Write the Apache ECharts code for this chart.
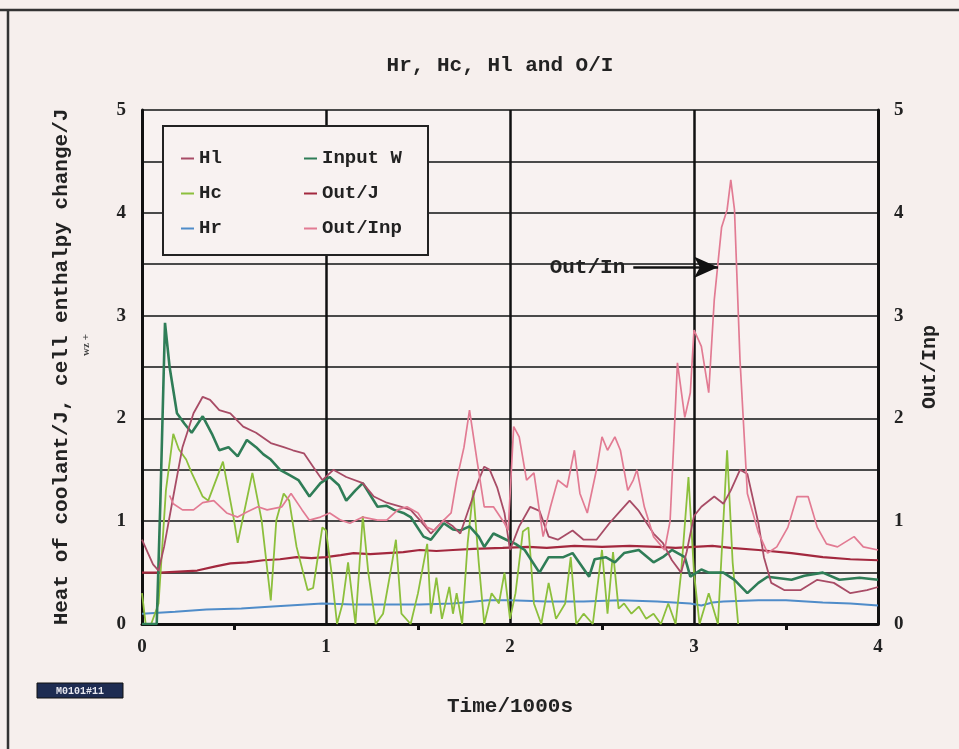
<!DOCTYPE html>
<html>
<head>
<meta charset="utf-8">
<script src="https://cdn.jsdelivr.net/npm/echarts@6/dist/echarts.min.js"></script>
<style>
html,body{margin:0;padding:0;background:#f6efed;}
#c{width:959px;height:749px;}
</style>
</head>
<body>
<div id="c"></div>
<script>
// ---- data (time in 1000 s) ----
const titleText = "Hr, Hc, Hl and O/I";
const xTicks = [0, 1, 2, 3, 4];
const yTicks = [0, 1, 2, 3, 4, 5];

const hlT = [0,0.03,0.06,0.09,0.12,0.17,0.22,0.28,0.33,0.37,0.42,0.48,0.55,0.62,0.7,0.77,0.82,0.88,0.93,0.98,1.04,1.11,1.2,1.26,1.33,1.41,1.46,1.51,1.57,1.64,1.69,1.73,1.78,1.83,1.86,1.89,1.93,1.97,2.0,2.05,2.11,2.16,2.21,2.26,2.34,2.4,2.47,2.54,2.6,2.65,2.7,2.78,2.83,2.88,2.93,2.96,3.0,3.04,3.11,3.16,3.2,3.25,3.29,3.35,3.38,3.42,3.49,3.58,3.67,3.76,3.85,3.94,4.0];
const hlV = [0.82,0.7,0.58,0.52,0.75,1.24,1.72,2.05,2.21,2.18,2.08,2.05,1.92,1.86,1.76,1.72,1.69,1.66,1.53,1.4,1.5,1.43,1.37,1.24,1.18,1.14,1.11,1.01,0.88,1.01,0.95,0.88,1.14,1.4,1.53,1.5,1.33,1.08,0.72,0.95,1.14,1.1,0.85,0.82,0.91,0.82,0.82,0.98,1.1,1.2,1.1,0.88,0.79,0.62,0.5,0.7,1.05,1.14,1.24,1.17,1.3,1.5,1.46,0.98,0.65,0.4,0.33,0.33,0.43,0.4,0.3,0.33,0.36];

const inT = [0,0.04,0.08,0.1,0.125,0.15,0.19,0.23,0.27,0.33,0.38,0.42,0.47,0.52,0.57,0.62,0.66,0.7,0.75,0.8,0.85,0.91,0.97,1.02,1.07,1.11,1.16,1.2,1.28,1.33,1.37,1.42,1.46,1.53,1.57,1.64,1.69,1.73,1.78,1.83,1.86,1.91,1.98,2.03,2.08,2.16,2.21,2.29,2.34,2.43,2.46,2.52,2.57,2.62,2.7,2.78,2.83,2.88,2.95,2.98,3.04,3.08,3.16,3.22,3.29,3.35,3.4,3.53,3.6,3.7,3.79,3.9,4.0];
const inV = [0,0,0,1.2,2.93,2.5,2.05,1.95,1.86,2.02,1.85,1.69,1.72,1.63,1.79,1.72,1.65,1.6,1.5,1.45,1.4,1.24,1.37,1.43,1.35,1.2,1.3,1.37,1.14,1.15,1.11,1.08,1.04,0.85,0.82,0.98,0.92,0.91,0.95,0.85,0.75,0.88,0.82,0.78,0.72,0.5,0.65,0.65,0.69,0.46,0.63,0.65,0.6,0.69,0.72,0.6,0.65,0.72,0.65,0.46,0.53,0.5,0.5,0.43,0.3,0.4,0.46,0.43,0.47,0.5,0.43,0.45,0.43];

const hcT = [0,0.02,0.05,0.09,0.13,0.17,0.2,0.24,0.27,0.33,0.36,0.44,0.5,0.52,0.6,0.65,0.7,0.73,0.77,0.8,0.84,0.9,0.93,0.98,1.0,1.03,1.06,1.09,1.12,1.16,1.2,1.23,1.27,1.31,1.35,1.38,1.41,1.46,1.5,1.55,1.57,1.6,1.63,1.67,1.69,1.71,1.74,1.77,1.8,1.83,1.86,1.9,1.94,1.97,2.0,2.03,2.07,2.1,2.13,2.17,2.21,2.25,2.3,2.33,2.36,2.4,2.45,2.5,2.53,2.56,2.59,2.62,2.66,2.7,2.74,2.78,2.82,2.86,2.9,2.93,2.97,3.0,3.03,3.08,3.13,3.18,3.21,3.24];
const hcV = [0.3,0,0,0.2,1.3,1.85,1.7,1.6,1.47,1.24,1.2,1.58,1.01,0.79,1.47,1.01,0.23,1.01,1.27,1.2,0.75,0.33,0.35,0.94,0.91,0.5,0,0.2,0.6,0,1.05,0.5,0,0.1,0.5,0.82,0.1,0,0.3,0.78,0.1,0.45,0.05,0.36,0.1,0.3,0,0.79,1.3,0.6,0,0.3,0.2,0.5,0.05,0.3,0.9,0.94,0.2,0,0.4,0.05,0.2,0.65,0,0.1,0,0.72,0.1,0.7,0.15,0.2,0.1,0.17,0.05,0.1,0,0.2,0,0.5,1.43,0.5,0,0.3,0,1.69,0.6,0];

const outJT = [0,0.1,0.2,0.3,0.4,0.48,0.57,0.66,0.75,0.84,0.92,1.0,1.08,1.15,1.24,1.33,1.42,1.51,1.6,1.69,1.8,1.96,2.1,2.2,2.35,2.5,2.65,2.8,2.9,3.0,3.1,3.2,3.35,3.53,3.7,3.85,4.0];
const outJV = [0.5,0.5,0.51,0.52,0.56,0.59,0.6,0.62,0.63,0.65,0.64,0.65,0.67,0.69,0.68,0.69,0.7,0.72,0.71,0.72,0.73,0.74,0.75,0.74,0.76,0.75,0.76,0.75,0.74,0.75,0.76,0.74,0.72,0.69,0.65,0.63,0.62];

const oiT = [0.15,0.17,0.22,0.28,0.33,0.39,0.46,0.52,0.57,0.63,0.68,0.76,0.81,0.87,0.91,0.97,1.02,1.08,1.13,1.2,1.28,1.33,1.39,1.44,1.5,1.55,1.59,1.64,1.68,1.71,1.75,1.78,1.82,1.86,1.91,1.97,1.99,2.02,2.05,2.09,2.13,2.18,2.22,2.26,2.31,2.35,2.38,2.42,2.47,2.5,2.53,2.57,2.6,2.64,2.67,2.69,2.73,2.78,2.84,2.87,2.89,2.91,2.95,2.98,3.0,3.04,3.08,3.11,3.15,3.18,3.2,3.22,3.25,3.29,3.35,3.4,3.45,3.51,3.56,3.62,3.67,3.72,3.78,3.87,3.92,4.0];
const oiV = [1.25,1.17,1.11,1.11,1.18,1.2,1.08,1.04,1.09,1.14,1.11,1.14,1.27,1.11,1.01,1.04,1.08,1.01,0.98,1.04,1.01,1.01,1.11,1.14,1.08,0.94,0.91,1.01,1.08,1.4,1.72,2.08,1.6,1.14,1.14,0.98,0.91,1.92,1.82,1.4,1.47,0.85,1.14,1.4,1.33,1.69,1.27,1.08,1.5,1.82,1.69,1.82,1.69,1.3,1.4,1.5,1.14,0.85,0.72,1.0,1.76,2.54,2.01,2.25,2.86,2.7,2.25,3.15,3.86,4.03,4.32,4.03,2.57,1.27,0.89,0.69,0.75,0.94,1.24,1.24,0.94,0.78,0.75,0.85,0.75,0.72];

const hrT = [0,0.18,0.35,0.54,0.71,0.98,1.15,1.33,1.51,1.69,1.88,2.0,2.2,2.4,2.6,2.8,2.98,3.04,3.1,3.16,3.35,3.5,3.7,3.85,4.0];
const hrV = [0.1,0.12,0.14,0.15,0.17,0.2,0.19,0.19,0.19,0.2,0.23,0.23,0.22,0.22,0.23,0.22,0.2,0.18,0.21,0.22,0.23,0.23,0.21,0.2,0.18];

// annotation arrow (data coords)
const arrowStart = [2.67, 3.47];
const arrowEnd = [3.13, 3.47];
const arrowLabel = "Out/In";

function pairs(t, v) { return t.map((x, i) => [x, v[i]]); }

const MONO = '"Liberation Mono", "DejaVu Sans Mono", monospace';
const SERIF = '"Liberation Serif", "DejaVu Serif", serif';

const chart = echarts.init(document.getElementById('c'), null, {renderer: 'canvas'});

function line(name, t, v, color, width, yIdx, extra) {
  return Object.assign({
    name: name, type: 'line', data: pairs(t, v), yAxisIndex: yIdx || 0,
    showSymbol: false, symbol: 'none', smooth: false, animation: false,
    lineStyle: {color: color, width: width}, itemStyle: {color: color}
  }, extra || {});
}

const legendText = {fontFamily: MONO, fontWeight: 'bold', fontSize: 19, color: '#222'};

chart.setOption({
  backgroundColor: '#f6efed',
  animation: false,
  title: {
    text: titleText, left: 495, top: 50, textAlign: 'center',
    textStyle: {fontFamily: MONO, fontWeight: 'bold', fontSize: 21, color: '#222'}
  },
  grid: {left: 142, right: 81, top: 110, bottom: 125, show: true, backgroundColor: '#f8f2f1', borderWidth: 0},
  legend: [
    {data: ['Hl', 'Hc', 'Hr'], orient: 'vertical', left: 176, top: 144, itemGap: 16, z: 20,
     icon: 'rect', itemWidth: 13, itemHeight: 2, textStyle: legendText, selectedMode: false},
    {data: ['Input W', 'Out/J', 'Out/Inp'], orient: 'vertical', left: 299, top: 144, itemGap: 16, z: 20,
     icon: 'rect', itemWidth: 13, itemHeight: 2, textStyle: legendText, selectedMode: false}
  ],
  xAxis: {
    type: 'value', min: 0, max: 4, interval: 1,
    name: 'Time/1000s', nameLocation: 'middle', nameGap: 72,
    nameTextStyle: {fontFamily: MONO, fontWeight: 'bold', fontSize: 21, color: '#222'},
    axisLine: {show: true, lineStyle: {color: '#111', width: 3}},
    axisTick: {show: false},
    minorTick: {show: true, splitNumber: 2, length: 6, lineStyle: {color: '#111', width: 3}},
    axisLabel: {fontFamily: SERIF, fontWeight: 'bold', fontSize: 19, color: '#222', margin: 14,
      formatter: v => xTicks.includes(v) ? String(v) : ''},
    splitLine: {show: true, lineStyle: {color: '#111', width: 2.5}}
  },
  yAxis: [
    {
      type: 'value', min: 0, max: 5, interval: 1, position: 'left',
      name: 'Heat of coolant/J, cell enthalpy change/J', nameLocation: 'middle', nameGap: 70,
      nameTextStyle: {fontFamily: MONO, fontWeight: 'bold', fontSize: 21, color: '#222'},
      axisLine: {show: true, lineStyle: {color: '#111', width: 3}},
      axisTick: {show: false},
      axisLabel: {fontFamily: SERIF, fontWeight: 'bold', fontSize: 19, color: '#222', margin: 16,
        formatter: v => yTicks.includes(v) ? String(v) : ''},
      splitLine: {show: true, lineStyle: {color: '#4a4a4a', width: 2}},
      minorSplitLine: {show: true, lineStyle: {color: '#4a4a4a', width: 2}},
      minorTick: {show: false, splitNumber: 2}
    },
    {
      type: 'value', min: 0, max: 5, interval: 1, position: 'right',
      name: 'Out/Inp', nameLocation: 'middle', nameGap: 42, nameRotate: 90,
      nameTextStyle: {fontFamily: MONO, fontWeight: 'bold', fontSize: 20, color: '#222'},
      axisLine: {show: true, lineStyle: {color: '#111', width: 3}},
      axisTick: {show: false},
      axisLabel: {fontFamily: SERIF, fontWeight: 'bold', fontSize: 19, color: '#222', margin: 16,
        formatter: v => yTicks.includes(v) ? String(v) : ''},
      splitLine: {show: false}
    }
  ],
  series: [
    line('Hr', hrT, hrV, '#4f8cc9', 2),
    line('Out/J', outJT, outJV, '#a3283e', 2.2),
    line('Hc', hcT, hcV, '#8cbf3c', 1.8),
    line('Input W', inT, inV, '#2f7d57', 2.6),
    line('Hl', hlT, hlV, '#a84c66', 1.8),
    line('Out/Inp', oiT, oiV, '#e27b93', 1.7, 1, {
      markLine: {
        silent: true, symbol: ['none', 'arrow'], symbolSize: [16, 24],
        lineStyle: {color: '#111', width: 2.5, type: 'solid'},
        label: {show: true, position: 'start', formatter: arrowLabel, distance: 8,
          fontFamily: MONO, fontWeight: 'bold', fontSize: 21, color: '#222'},
        data: [[{coord: arrowStart}, {coord: arrowEnd}]]
      }
    })
  ],
  graphic: [
    {type: 'line', shape: {x1: 0, y1: 10, x2: 959, y2: 10}, style: {stroke: '#333', lineWidth: 2.5}},
    {type: 'line', shape: {x1: 8, y1: 10, x2: 8, y2: 749}, style: {stroke: '#333', lineWidth: 2.5}},
    {type: 'rect', shape: {x: 163, y: 126, width: 265, height: 129}, z: 1,
     style: {fill: '#f8f2f1', stroke: '#222', lineWidth: 2}},
    {type: 'text', x: 86, y: 345, rotation: Math.PI / 2, z: 10,
     style: {text: 'wz +', font: 'bold 11px ' + SERIF, fill: '#444', textAlign: 'center', textVerticalAlign: 'middle'}},
    {type: 'rect', shape: {x: 37, y: 683, width: 86, height: 15}, z: 10,
     style: {fill: '#1e2c52', stroke: '#111', lineWidth: 1}},
    {type: 'text', x: 80, y: 691, z: 11,
     style: {text: 'M0101#11', font: 'bold 10px ' + MONO, fill: '#e8e8f0', textAlign: 'center', textVerticalAlign: 'middle'}}
  ]
});
</script>
</body>
</html>
